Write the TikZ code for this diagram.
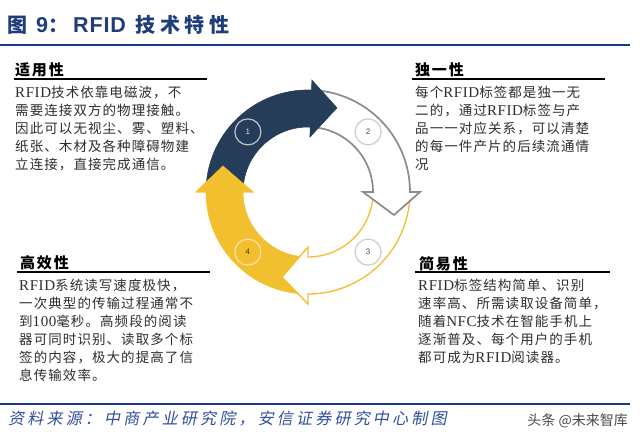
\documentclass[tikz,border=0pt]{standalone}
\usepackage{fontspec}
\setmainfont{Liberation Serif}
\newfontfamily\cjk{Noto Sans CJK SC}[LetterSpace=8]
\newfontfamily\cjkhead{Noto Sans CJK SC}[LetterSpace=12]
\newfontfamily\cjktitle{Noto Sans CJK SC}[LetterSpace=22]
\newfontfamily\cjkfoot{Noto Sans CJK SC}[LetterSpace=20,FakeSlant=0.2]
\newfontfamily\cjkmark{Noto Sans CJK SC}
\newfontfamily\latserif{Liberation Serif}[LetterSpace=4]
\newfontfamily\latsans{Liberation Sans}
\newfontfamily\lattitle{Liberation Sans}[LetterSpace=4]
\usetikzlibrary{positioning}

\definecolor{arrownavy}{HTML}{263D5A}
\definecolor{arrowgold}{HTML}{F2BF2F}
\definecolor{ringgray}{HTML}{8C8C8C}
\definecolor{titleblue}{HTML}{1F3D7B}
\definecolor{ruleblue}{HTML}{1B3A87}
\definecolor{footblue}{HTML}{2F4F9F}
\definecolor{bodygray}{HTML}{2E2E2E}
\definecolor{markgray}{HTML}{4A4A4A}

\newcommand{\lat}[1]{{\latserif\fontsize{15}{18}\selectfont #1}}
\newcommand{\tlat}[1]{{\lattitle\bfseries\fontsize{21.5}{24}\selectfont #1}}
% ring piece: start angle, head base angle, tip angle
\newcommand{\ringarrow}[4][]{%
  \draw[#1] (#2:102) arc[start angle=#2, end angle=#3, radius=102] -- (#3:112) -- (#4:89)
    -- (#3:55) -- (#3:65) arc[start angle=#3, end angle=#2, radius=65] -- cycle;}

\begin{document}
\begin{tikzpicture}[x=1pt, y=1pt,
    headtext/.style={anchor=west, inner sep=0pt, text=black, font=\cjkhead\bfseries\fontsize{15}{18}\selectfont},
    bodytext/.style={anchor=north west, inner sep=0pt, align=left, text=bodygray, font=\cjk\fontsize{13.5}{18}\selectfont},
    headrule/.style={line width=2pt, black},
    bluerule/.style={line width=2.5pt, ruleblue},
    numcirc/.style={circle, minimum size=26pt, inner sep=0pt, line width=1.2pt, font=\latsans\fontsize{8}{9}\selectfont}]
    \useasboundingbox[fill=white] (0,0) rectangle (640,446);

    \node (title) [anchor=west, inner sep=0pt, text=titleblue, font=\cjktitle\bfseries\fontsize{20}{24}\selectfont] at (7,421)
        {图\hspace*{9pt}\tlat{9}：\hspace{5pt}\tlat{RFID}\hspace{10pt}技术特性};
    \coordinate (topa) at (0,401);
    \coordinate (topb) at (630,401);
    \draw[bluerule] (topa) -- (topb);

    % four text blocks
    \node (usehead) [headtext] at (15,376) {适用性};
    \coordinate (ul1a) at (14,367);
    \coordinate (ul1b) at (207,367);
    \draw[headrule] (ul1a) -- (ul1b);
    \node (usebody) [bodytext, below=7pt of ul1a, anchor=north west, xshift=1pt]
        {\lat{RFID}技术依靠电磁波，不\\需要连接双方的物理接触。\\因此可以无视尘、雾、塑料、\\纸张、木材及各种障碍物建\\立连接，直接完成通信。};

    \node (onlyhead) [headtext] at (415,376) {独一性};
    \coordinate (ul2a) at (412,367);
    \coordinate (ul2b) at (605,367);
    \draw[headrule] (ul2a) -- (ul2b);
    \node (onlybody) [bodytext, below=7pt of ul2a, anchor=north west, xshift=3pt]
        {每个\lat{RFID}标签都是独一无\\二的，通过\lat{RFID}标签与产\\品一一对应关系，可以清楚\\的每一件产片的后续流通情\\况};

    \node (fasthead) [headtext] at (20,183) {高效性};
    \coordinate (ul3a) at (17,174);
    \coordinate (ul3b) at (210,174);
    \draw[headrule] (ul3a) -- (ul3b);
    \node (fastbody) [bodytext, below=7pt of ul3a, anchor=north west, xshift=2pt]
        {\lat{RFID}系统读写速度极快，\\一次典型的传输过程通常不\\到\lat{100}毫秒。高频段的阅读\\器可同时识别、读取多个标\\签的内容，极大的提高了信\\息传输效率。};

    \node (easyhead) [headtext] at (419,182) {简易性};
    \coordinate (ul4a) at (415,174);
    \coordinate (ul4b) at (610,174);
    \draw[headrule] (ul4a) -- (ul4b);
    \node (easybody) [bodytext, below=7pt of ul4a, anchor=north west, xshift=3pt]
        {\lat{RFID}标签结构简单、识别\\速率高、所需读取设备简单，\\随着\lat{NFC}技术在智能手机上\\逐渐普及、每个用户的手机\\都可成为\lat{RFID}阅读器。};

    % cycle
    \begin{scope}[shift={(308,254)}]
        \ringarrow[fill=arrowgold, draw=arrowgold, line width=0.6pt]{270}{180}{163}
        \ringarrow[fill=white, draw=arrowgold, line width=1.3pt]{-2}{-90}{-107}
        \ringarrow[fill=white, draw=ringgray, line width=1.7pt]{86}{0}{-15}
        \ringarrow[fill=arrownavy, draw=arrownavy, line width=0.6pt]{177}{88}{71}
        \filldraw[arrowgold, line width=0.6pt] (180:112) -- (163:89) -- (180:55) -- cycle;
        \node (step1) [numcirc, draw=white!70!arrownavy, text=white!85!arrownavy] at (135:85) {1};
        \node (step2) [numcirc, draw=black!20, text=black!70] at (45:85) {2};
        \node (step3) [numcirc, draw=black!20, text=black!70] at (-45:85) {3};
        \node (step4) [numcirc, draw=white!55!arrowgold, text=black!70!arrowgold] at (-135:85) {4};
    \end{scope}

    \coordinate (bota) at (0,42);
    \coordinate (botb) at (630,42);
    \draw[bluerule] (bota) -- (botb);
    \node (source) [anchor=west, inner sep=0pt, text=footblue, font=\cjkfoot\fontsize{16}{18}\selectfont] at (8,27)
        {资料来源：中商产业研究院，安信证券研究中心制图};
    \node (mark) [anchor=east, inner sep=0pt, text=markgray, font=\cjkmark\fontsize{14}{16}\selectfont] at (628,25)
        {头条 @未来智库};
\end{tikzpicture}
\end{document}
